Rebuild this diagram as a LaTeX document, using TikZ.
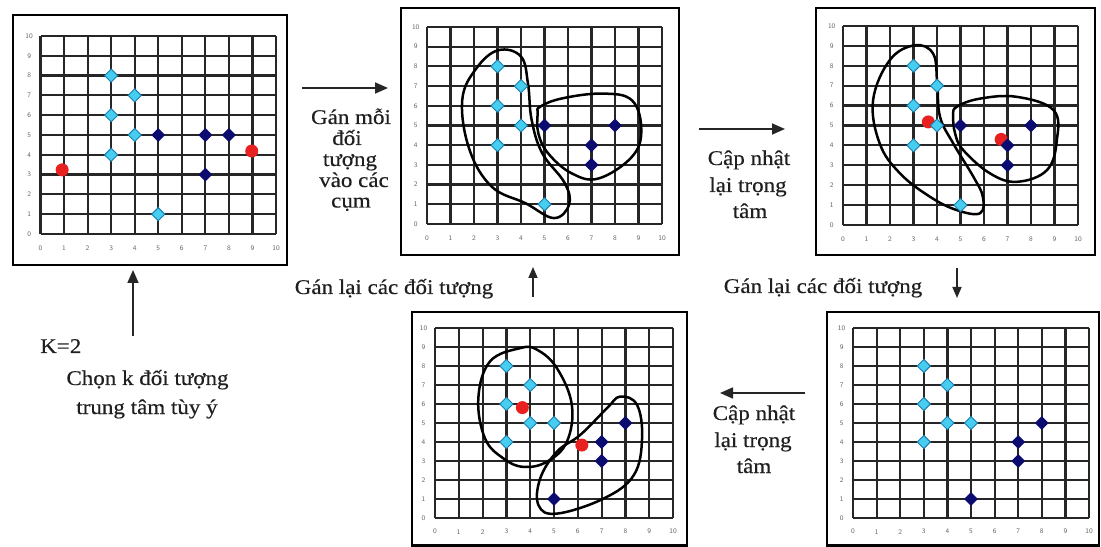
\documentclass[tikz,border=0pt]{standalone}
\usepackage{fontspec}
\setmainfont{Liberation Serif}[FakeStretch=1.1,FakeBold=0.35]
\usetikzlibrary{shapes.geometric,arrows.meta}
\definecolor{diacyan}{RGB}{70,205,240}
\definecolor{diaedge}{RGB}{25,125,175}
\definecolor{navyd}{RGB}{12,12,112}
\definecolor{cred}{RGB}{232,32,32}
\tikzset{
  frame/.style={draw=black, line width=2.6bp},
  gridl/.style={draw=black!85, line width=2.2bp},
  cdia/.style={diamond, fill=diacyan, draw=diaedge, line width=0.9bp, inner sep=0pt, minimum width=13.5bp, minimum height=13.5bp},
  ndia/.style={diamond, fill=navyd, inner sep=0pt, minimum width=14bp, minimum height=14bp},
  cent/.style={circle, fill=cred, inner sep=0pt, minimum size=13bp},
  blob/.style={draw=black, line width=2.5bp},
  lbl/.style={font=\fontsize{21}{23}\selectfont, text=black!88, inner sep=0pt},
  arr/.style={-{Triangle[length=13bp,width=11bp]}, line width=1.6bp, draw=black!85},
  sarr/.style={-{Triangle[length=11bp,width=9bp]}, line width=1.6bp, draw=black!85},
  tick/.style={font=\fontsize{7}{7}\selectfont\sffamily, text=black!60, inner sep=0pt}
}
\newcommand\mygrid[1]{%
  \foreach \i in {0,...,10}{%
    \draw[gridl] (\i,0) -- (\i,10);
    \draw[gridl] (0,\i) -- (10,\i);
    \node[tick] (#1y\i) at (-0.48,\i) {\i};
    \node[tick] (#1x\i) at (\i,-0.72) {\i};
  }}
\newcommand\cyanpts[2]{\foreach \a/\b [count=\n] in {#2}{\node[cdia] (#1c\n) at (\a,\b) {};}}
\newcommand\navypts[2]{\foreach \a/\b [count=\n] in {#2}{\node[ndia] (#1n\n) at (\a,\b) {};}}
\newcommand\redpts[2]{\foreach \a/\b [count=\n] in {#2}{\node[cent] (#1r\n) at (\a,\b) {};}}
\begin{document}
\begin{tikzpicture}[x=1bp,y=-1bp]
\useasboundingbox[fill=white] (0,0) rectangle (1101,547);

% ---------- Panel 1 ----------
\draw[frame] (13,15) rectangle (287,265);
\begin{scope}[shift={(40.5,234)}, xscale=23.55, yscale=-19.8]
  \mygrid{pa}
  \redpts{pa}{0.92/3.24, 8.97/4.19}
  \cyanpts{pa}{3/8,4/7,3/6,4/5,3/4,5/1}
  \navypts{pa}{5/5,7/5,8/5,7/3}
\end{scope}

% ---------- Panel 2 ----------
\draw[frame] (401,8) rectangle (679,255);
\begin{scope}[shift={(427,224)}, xscale=23.5, yscale=-19.7]
  \mygrid{pb}
  \draw[blob] plot[smooth cycle, tension=0.65] coordinates {(3.03,8.82) (2.1,7.9) (1.5,6.3) (1.8,3.8) (2.75,1.9) (4.2,1.05) (5.4,0.3) (6.05,1.0) (5.85,2.1) (4.9,3.6) (4.45,5.3) (4.3,7.1) (4.0,8.5)};
  \draw[blob] plot[smooth cycle, tension=0.65] coordinates {(4.81,5.95) (5.73,6.37) (7.44,6.62) (8.72,6.28) (9.12,4.76) (8.72,3.41) (7.3,2.31) (6.16,2.57) (5.16,3.58) (4.74,4.59) (4.71,5.61)};
  \cyanpts{pb}{3/8,4/7,3/6,4/5,3/4,5/1}
  \navypts{pb}{5/5,7/4,8/5,7/3}
\end{scope}

% ---------- Panel 3 ----------
\draw[frame] (816,8) rectangle (1095,255);
\begin{scope}[shift={(843,225)}, xscale=23.5, yscale=-19.9]
  \mygrid{pc}
  \draw[blob] plot[smooth cycle, tension=0.65] coordinates {(3.06,9.03) (2.0,8.3) (1.28,6.27) (1.56,4.1) (2.42,2.6) (3.7,1.42) (4.84,0.75) (5.83,0.59) (5.95,1.42) (5.55,2.42) (4.69,4.1) (4.13,5.43) (4.01,7.1) (3.84,8.6)};
  \draw[blob] plot[smooth cycle, tension=0.65] coordinates {(4.84,5.94) (5.83,6.35) (7.4,6.44) (8.96,5.77) (9.1,4.26) (8.68,2.76) (7.4,2.17) (6.26,2.59) (5.12,3.76) (4.77,4.6) (4.69,5.5)};
  \redpts{pc}{3.63/5.18, 6.73/4.3}
  \cyanpts{pc}{3/8,4/7,3/6,4/5,3/4,5/1}
  \navypts{pc}{5/5,7/4,8/5,7/3}
\end{scope}

% ---------- Panel 4 (bottom middle) ----------
\draw[frame] (412,312) rectangle (687,545.5);
\begin{scope}[shift={(435,518)}, xscale=23.8, yscale=-19.0]
  \mygrid{pd}
  \draw[blob] plot[smooth cycle, tension=0.65] coordinates {(3.58,8.94) (2.31,8.24) (1.82,6.3) (2.1,4.19) (2.88,3.13) (3.72,2.69) (4.7,2.96) (5.54,4.01) (5.75,5.95) (5.12,7.89) (4.28,8.86)};
  \draw[blob] plot[smooth cycle, tension=0.65] coordinates {(7.78,6.39) (8.49,5.95) (8.7,4.19) (8.35,2.25) (7.08,1.02) (5.12,0.23) (4.35,0.67) (4.42,2.08) (5.12,3.49) (6.1,4.37) (7.22,5.77)};
  \redpts{pd}{3.67/5.81, 6.17/3.84}
  \cyanpts{pd}{3/8,4/7,3/6,4/5,5/5,3/4}
  \navypts{pd}{8/5,7/4,7/3,5/1}
\end{scope}

% ---------- Panel 5 (bottom right) ----------
\draw[frame] (827,312) rectangle (1099,545.5);
\begin{scope}[shift={(853,518)}, xscale=23.6, yscale=-19.0]
  \mygrid{pe}
  \cyanpts{pe}{3/8,4/7,3/6,4/5,5/5,3/4}
  \navypts{pe}{8/5,7/4,7/3,5/1}
\end{scope}

% ---------- Arrows ----------
\coordinate (a1s) at (302,88);  \coordinate (a1e) at (388,88);
\coordinate (a2s) at (699,129); \coordinate (a2e) at (785,129);
\coordinate (a3s) at (957,268); \coordinate (a3e) at (957,298);
\coordinate (a4s) at (805,393); \coordinate (a4e) at (720,393);
\coordinate (a5s) at (533,297); \coordinate (a5e) at (533,267);
\coordinate (a6s) at (133,336); \coordinate (a6e) at (133,270);
\draw[arr] (a1s) -- (a1e);
\draw[arr] (a2s) -- (a2e);
\draw[sarr] (a3s) -- (a3e);
\draw[arr] (a4s) -- (a4e);
\draw[sarr] (a5s) -- (a5e);
\draw[arr] (a6s) -- (a6e);

% ---------- Labels ----------
\node[lbl, anchor=base west] (k2) at (40,353) {K=2};
\node[lbl, anchor=base] (ch1) at (147.5,385) {Chọn k đối tượng};
\node[lbl, anchor=base] (ch2) at (147,414) {trung tâm tùy ý};

\node[lbl, anchor=base] (g1) at (351,124) {Gán mỗi};
\node[lbl, anchor=base] (g2) at (347,145) {đối};
\node[lbl, anchor=base] (g3) at (350,166) {tượng};
\node[lbl, anchor=base] (g4) at (354,187) {vào các};
\node[lbl, anchor=base] (g5) at (351,207.5) {cụm};

\node[lbl, anchor=base] (u1) at (749,165) {Cập nhật};
\node[lbl, anchor=base] (u2) at (748,192) {lại trọng};
\node[lbl, anchor=base] (u3) at (750,218) {tâm};

\node[lbl, anchor=base] (v1) at (754,420) {Cập nhật};
\node[lbl, anchor=base] (v2) at (753,447) {lại trọng};
\node[lbl, anchor=base] (v3) at (754,473) {tâm};

\node[lbl, anchor=base] (rl) at (394,294) {Gán lại các đối tượng};
\node[lbl, anchor=base] (rr) at (823,293) {Gán lại các đối tượng};
\end{tikzpicture}
\end{document}
